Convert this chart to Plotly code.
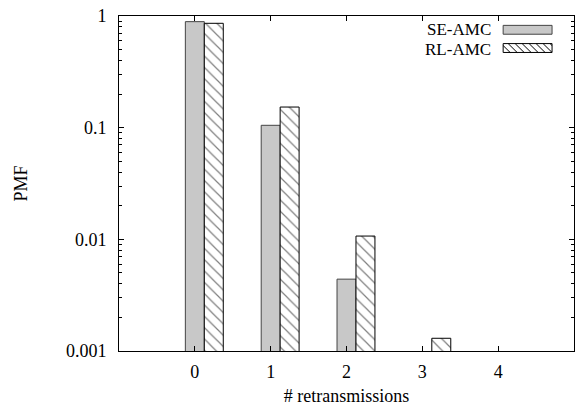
import plotly.graph_objects as go

# ---- data ----
categories = [0, 1, 2, 3, 4]
se_amc = [0.89, 0.105, 0.0044, None, None]
rl_amc = [0.86, 0.153, 0.0107, 0.0013, None]
series_names = ["SE-AMC", "RL-AMC"]
y_tick_vals = [0.001, 0.01, 0.1, 1]
y_tick_text = ["0.001", "0.01", "0.1", "1"]

W, H = 581, 409
ML, MR, MT, MB = 119, 6, 11, 58
PW, PH = W - ML - MR, H - MT - MB

FONT = "Liberation Serif"
FS = 18

fig = go.Figure()
fig.add_trace(go.Bar(
    x=categories, y=se_amc, name=series_names[0], width=0.25, offset=-0.125,
    marker=dict(color="#c8c8c8", line=dict(color="#444444", width=1)),
    showlegend=False,
))
fig.add_trace(go.Bar(
    x=categories, y=rl_amc, name=series_names[1], width=0.25, offset=0.125,
    marker=dict(color="white", line=dict(color="black", width=1),
                pattern=dict(shape="\\", fgcolor="black", bgcolor="white",
                             size=8, solidity=0.15)),
    showlegend=False,
))

minor_vals = [m * 10 ** e for e in (-3, -2, -1) for m in range(2, 10)]

fig.update_layout(
    width=W, height=H,
    margin=dict(l=ML, r=MR, t=MT, b=MB),
    paper_bgcolor="white", plot_bgcolor="white",
    barmode="overlay",
    font=dict(family=FONT, size=FS, color="black"),
    xaxis=dict(
        range=[-1, 5], tickvals=categories, ticktext=[str(c) for c in categories],
        ticks="inside", ticklen=5, tickcolor="black", tickwidth=1,
        showline=True, linecolor="black", linewidth=1, mirror="ticks",
        showgrid=False, zeroline=False,
        title=dict(text="# retransmissions", standoff=8, font=dict(size=FS)),
        ticklabelstandoff=4,
    ),
    yaxis=dict(
        type="log", range=[-3, 0], tickvals=y_tick_vals, ticktext=y_tick_text,
        ticks="inside", ticklen=5, tickcolor="black", tickwidth=1,
        showline=True, linecolor="black", linewidth=1, mirror="ticks",
        showgrid=False, zeroline=False,
        minor=dict(tickvals=minor_vals, ticks="inside", ticklen=3,
                   tickcolor="black", tickwidth=1, showgrid=False),
        title=dict(text="PMF", standoff=33, font=dict(size=FS)),
        ticklabelstandoff=8,
    ),
)


def px2x(px):
    return (px - ML) / PW


def py2y(py):
    return (H - MB - py) / PH


# ---- manual legend (gnuplot style: text then key on the right) ----
key_rows = [25, 43.5]
text_rows = [24.5, 44.5]
key_x0, key_x1 = 504, 553
text_right = 493
for i, name in enumerate(series_names):
    cy = key_rows[i]
    fig.add_annotation(
        x=px2x(text_right), y=py2y(text_rows[i]), xref="paper", yref="paper",
        text=name, showarrow=False, xanchor="right", yanchor="middle",
        borderpad=0,
        font=dict(family=FONT, size=17, color="black"),
    )
    y0, y1 = cy - 4.5, cy + 4.5
    if i == 0:
        fig.add_shape(type="rect", xref="paper", yref="paper",
                      x0=px2x(key_x0), x1=px2x(key_x1), y0=py2y(y1), y1=py2y(y0),
                      fillcolor="#c8c8c8", line=dict(color="#444444", width=1))
    else:
        fig.add_shape(type="rect", xref="paper", yref="paper",
                      x0=px2x(key_x0), x1=px2x(key_x1), y0=py2y(y1), y1=py2y(y0),
                      fillcolor="white", line=dict(color="black", width=1))
        h = y1 - y0
        segs = []
        s = key_x0 - h
        while s < key_x1:
            ax, ay, bx, by = s, y0, s + h, y1
            if ax < key_x0:
                ay = y0 + (key_x0 - ax)
                ax = key_x0
            if bx > key_x1:
                by = y1 - (bx - key_x1)
                bx = key_x1
            if bx > ax:
                segs.append(f"M{px2x(ax)},{py2y(ay)} L{px2x(bx)},{py2y(by)}")
            s += 7
        fig.add_shape(type="path", xref="paper", yref="paper", path=" ".join(segs),
                      line=dict(color="black", width=1))

fig.write_html("out.html")
